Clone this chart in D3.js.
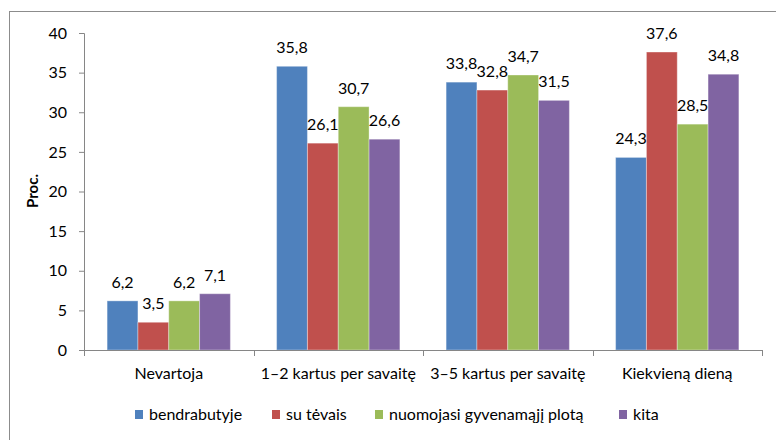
<!DOCTYPE html>
<html>
<head>
<meta charset="utf-8">
<script src="https://cdn.jsdelivr.net/npm/d3@7"></script>
<style>
  body { margin: 0; background: #fff; }
  text { font-family: Lato, "Open Sans", sans-serif; fill: #000; }
</style>
</head>
<body>
<script>
var categories = ['Nevartoja', '1\u20132 kartus per savaitę', '3\u20135 kartus per savaitę', 'Kiekvieną dieną']
var seriesNames = ['bendrabutyje', 'su tėvais', 'nuomojasi gyvenamąjį plotą', 'kita']
var bendrabutyje = [6.2, 35.8, 33.8, 24.3]
var suTevais = [3.5, 26.1, 32.8, 37.6]
var nuomojasi = [6.2, 30.7, 34.7, 28.5]
var kita = [7.1, 26.6, 31.5, 34.8]
var yTicks = [0, 5, 10, 15, 20, 25, 30, 35, 40]
var colors = ['#4F81BD', '#C0504D', '#9BBB59', '#8064A2']

var values = [bendrabutyje, suTevais, nuomojasi, kita]

var width = 776
var height = 440
var fs = '16px'
var svg = d3.select('body')
            .append('svg')
            .attr('width', width)
            .attr('height', height)

// outer chart border
svg.append('rect')
   .attr('x', 9.5).attr('y', 11.5)
   .attr('width', 800).attr('height', 500)
   .attr('fill', 'none')
   .attr('stroke', '#8c8c8c')

var plotLeft = 84, plotRight = 762, plotTop = 33, plotBottom = 350

var x = d3.scaleBand()
          .domain(categories)
          .range([plotLeft, plotRight])

var x1 = d3.scaleBand()
           .domain(d3.range(4))
           .range([0, x.bandwidth()])
           .paddingOuter(0.75)
           .paddingInner(0)

var y = d3.scaleLinear()
          .domain([0, 40])
          .range([plotBottom, plotTop])

// y axis
var yAxis = svg.append('g')
   .attr('transform', 'translate(' + plotLeft + ',0)')
   .call(d3.axisLeft(y).tickValues(yTicks).tickSize(5).tickPadding(12))
yAxis.select('.domain').attr('stroke', '#868686')
yAxis.selectAll('.tick line').attr('stroke', '#868686')
yAxis.selectAll('.tick text')
     .attr('font-size', fs)
     .attr('font-family', 'Lato, sans-serif')
     .attr('fill', '#000')

// bars
var groups = svg.selectAll('g.cat')
                .data(categories)
                .enter().append('g')
                .attr('class', 'cat')
                .attr('transform', function(d) {
                    return 'translate(' + x(d) + ',0)'
                })

groups.selectAll('rect')
      .data(function(d, ci) {
          return values.map(function(s, si) { return {si: si, v: s[ci]} })
      })
      .enter().append('rect')
      .attr('x', function(d) { return x1(d.si) })
      .attr('y', function(d) { return y(d.v) })
      .attr('width', x1.bandwidth())
      .attr('height', function(d) { return plotBottom - y(d.v) })
      .attr('fill', function(d) { return colors[d.si] })
      .attr('stroke', 'rgba(255,255,255,0.35)')
      .attr('stroke-width', 1)

groups.selectAll('text.val')
      .data(function(d, ci) {
          return values.map(function(s, si) { return {si: si, v: s[ci]} })
      })
      .enter().append('text')
      .attr('class', 'val')
      .attr('x', function(d) { return x1(d.si) + x1.bandwidth() / 2 })
      .attr('y', function(d) { return y(d.v) - 13 })
      .attr('text-anchor', 'middle')
      .attr('font-size', fs)
      .text(function(d) { return String(d.v).replace('.', ',') })

// x axis
svg.append('line')
   .attr('x1', plotLeft).attr('x2', plotRight)
   .attr('y1', plotBottom + 0.5).attr('y2', plotBottom + 0.5)
   .attr('stroke', '#868686')
svg.selectAll('line.xtick')
   .data(d3.range(categories.length + 1))
   .enter().append('line')
   .attr('class', 'xtick')
   .attr('x1', function(i) { return Math.round(plotLeft + i * x.bandwidth()) + 0.5 })
   .attr('x2', function(i) { return Math.round(plotLeft + i * x.bandwidth()) + 0.5 })
   .attr('y1', plotBottom)
   .attr('y2', plotBottom + 6)
   .attr('stroke', '#868686')

svg.selectAll('text.catlab')
   .data(categories)
   .enter().append('text')
   .attr('class', 'catlab')
   .attr('x', function(d) { return x(d) + x.bandwidth() / 2 })
   .attr('y', 379)
   .attr('text-anchor', 'middle')
   .attr('font-size', fs)
   .text(function(d) { return d })

// y label
svg.append('text')
   .attr('transform', 'translate(38,191) rotate(-90)')
   .attr('text-anchor', 'middle')
   .attr('font-size', '15px')
   .attr('font-weight', 'bold')
   .text('Proc.')

// legend
var legendX = [135, 272, 375, 619]
var legend = svg.selectAll('g.leg')
                .data(seriesNames)
                .enter().append('g')
                .attr('class', 'leg')
                .attr('transform', function(d, i) {
                    return 'translate(' + legendX[i] + ',410)'
                })
legend.append('rect')
      .attr('width', 8).attr('height', 9)
      .attr('fill', function(d, i) { return colors[i] })
legend.append('text')
      .attr('x', 14)
      .attr('y', 10)
      .attr('font-size', fs)
      .text(function(d) { return d })
</script>
</body>
</html>
